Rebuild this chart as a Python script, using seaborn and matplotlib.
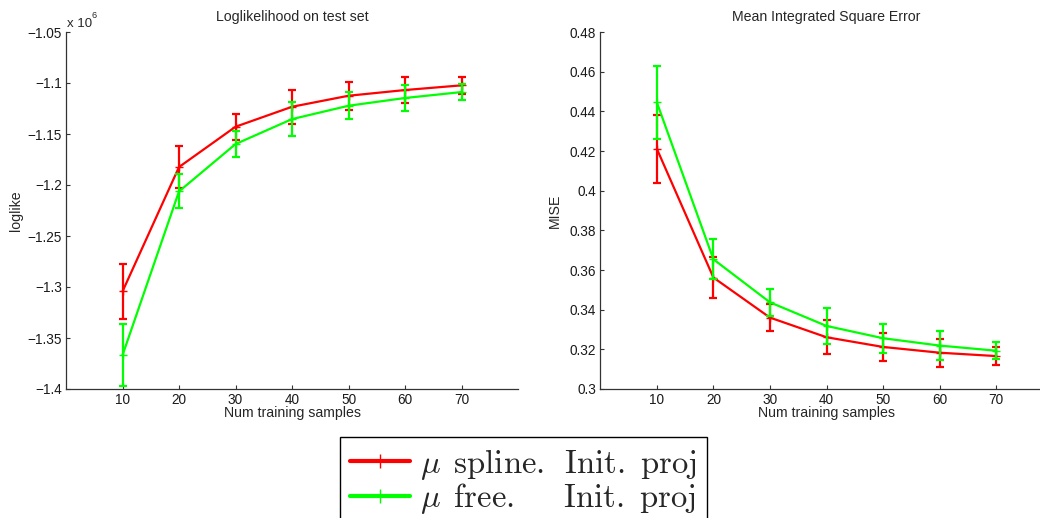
import numpy as np
import pandas as pd
import matplotlib
matplotlib.use("Agg")
import matplotlib.pyplot as plt
from matplotlib.lines import Line2D
from matplotlib.font_manager import FontProperties
from matplotlib.ticker import FuncFormatter
import seaborn as sns

# ---------------- data ----------------
n_samples = [10, 20, 30, 40, 50, 60, 70]

ll_spline = [-1.3044e6, -1.1824e6, -1.1429e6, -1.1233e6, -1.1125e6, -1.1069e6, -1.1023e6]
ll_spline_err = [0.027e6, 0.021e6, 0.0126e6, 0.0165e6, 0.0135e6, 0.013e6, 0.0084e6]
ll_free = [-1.3669e6, -1.2063e6, -1.1599e6, -1.1354e6, -1.1223e6, -1.1147e6, -1.1089e6]
ll_free_err = [0.0305e6, 0.0167e6, 0.0124e6, 0.0167e6, 0.0134e6, 0.0128e6, 0.008e6]

mise_spline = [0.4211, 0.3562, 0.3360, 0.3261, 0.3212, 0.3183, 0.3166]
mise_spline_err = [0.017, 0.0102, 0.0067, 0.0087, 0.007, 0.007, 0.0044]
mise_free = [0.4445, 0.3654, 0.3437, 0.3318, 0.3256, 0.3219, 0.3193]
mise_free_err = [0.0184, 0.010, 0.0069, 0.009, 0.0072, 0.0072, 0.0044]

series_names = [r"$\mu\ \,\mathrm{spline.\ \,Init.\ proj}\ $",
                r"$\mu\ \,\mathrm{free.\ \,\quad Init.\ proj}\ $"]
series_colors = ["#ff0000", "#00ff00"]

ll_yticks = [-1.4, -1.35, -1.3, -1.25, -1.2, -1.15, -1.1, -1.05]
mise_yticks = [0.3, 0.32, 0.34, 0.36, 0.38, 0.4, 0.42, 0.44, 0.46, 0.48]

# ---------------- style ----------------
sns.set_theme(style="ticks")
plt.rcParams["font.family"] = ["Liberation Sans", "DejaVu Sans"]
plt.rcParams["axes.edgecolor"] = "#333333"
plt.rcParams["xtick.color"] = "#333333"
plt.rcParams["ytick.color"] = "#333333"
plt.rcParams["xtick.labelcolor"] = "#1a1a1a"
plt.rcParams["ytick.labelcolor"] = "#1a1a1a"

W, H = 1040, 518
fig = plt.figure(figsize=(W / 100, H / 100), dpi=100)

axL = fig.add_axes([66 / W, 1 - 389 / H, 452 / W, 357 / H])
axR = fig.add_axes([600.3 / W, 1 - 389 / H, 452.4 / W, 357 / H])


def fmt_minus(v, _):
    s = "%g" % v
    return s.replace("-", "\u2212")


def draw(ax, ys, errs, ylim, yticks, scale, title, ylabel):
    for y, e, c in zip(ys, errs, series_colors):
        df = pd.DataFrame({"n": n_samples, "v": y})
        sns.lineplot(data=df, x="n", y="v", ax=ax, color=c, linewidth=1.6,
                     marker="+", markersize=6, markeredgewidth=1.0,
                     markeredgecolor=c, errorbar=None)
        ax.errorbar(n_samples, y, yerr=e, fmt="none", ecolor=c,
                    elinewidth=1.6, capsize=3.2, capthick=1.6)
    ax.set_xlim(0, 80)
    ax.set_ylim(*ylim)
    ax.set_xticks(n_samples)
    ax.set_yticks([t * scale for t in yticks])
    ax.yaxis.set_major_formatter(FuncFormatter(lambda v, p: fmt_minus(v / scale, p)))
    ax.tick_params(direction="in", length=3, width=0.8, labelsize=9.8, pad=3)
    for s in ["top", "right"]:
        ax.spines[s].set_visible(False)
    for s in ["left", "bottom"]:
        ax.spines[s].set_linewidth(0.9)
    ax.set_title(title, fontsize=10.2, pad=8)
    ax.set_xlabel("Num training samples", fontsize=10.2, labelpad=-1)
    ax.set_ylabel(ylabel, fontsize=10.2)


draw(axL, [ll_spline, ll_free], [ll_spline_err, ll_free_err],
     (-1.4e6, -1.05e6), ll_yticks, 1e6, "Loglikelihood on test set", "loglike")
draw(axR, [mise_spline, mise_free], [mise_spline_err, mise_free_err],
     (0.3, 0.48), mise_yticks, 1.0, "Mean Integrated Square Error", "MISE")

axL.yaxis.set_label_coords(-0.095, 0.5)
axR.yaxis.set_label_coords(-0.085, 0.5)

fig.text(67 / W, 1 - 27 / H, "x 10", fontsize=9.5, ha="left", va="baseline")
fig.text(91 / W, 1 - 18 / H, "6", fontsize=6.5, ha="left", va="baseline")

handles = [Line2D([], [], color=c, lw=3, marker="+", markersize=10,
                  markeredgewidth=1.0) for c in series_colors]
prop = FontProperties(size=23.5, math_fontfamily="cm")
leg = fig.legend(handles, series_names, loc="upper left",
                 bbox_to_anchor=(340 / W, 1 - 437 / H), borderaxespad=0,
                 frameon=True, fancybox=False, edgecolor="black", framealpha=1,
                 prop=prop, handlelength=1.85, handletextpad=0.3, borderpad=0.3,
                 labelspacing=-0.02)
leg.get_frame().set_linewidth(1.0)

fig.savefig("out.png", dpi=100)
